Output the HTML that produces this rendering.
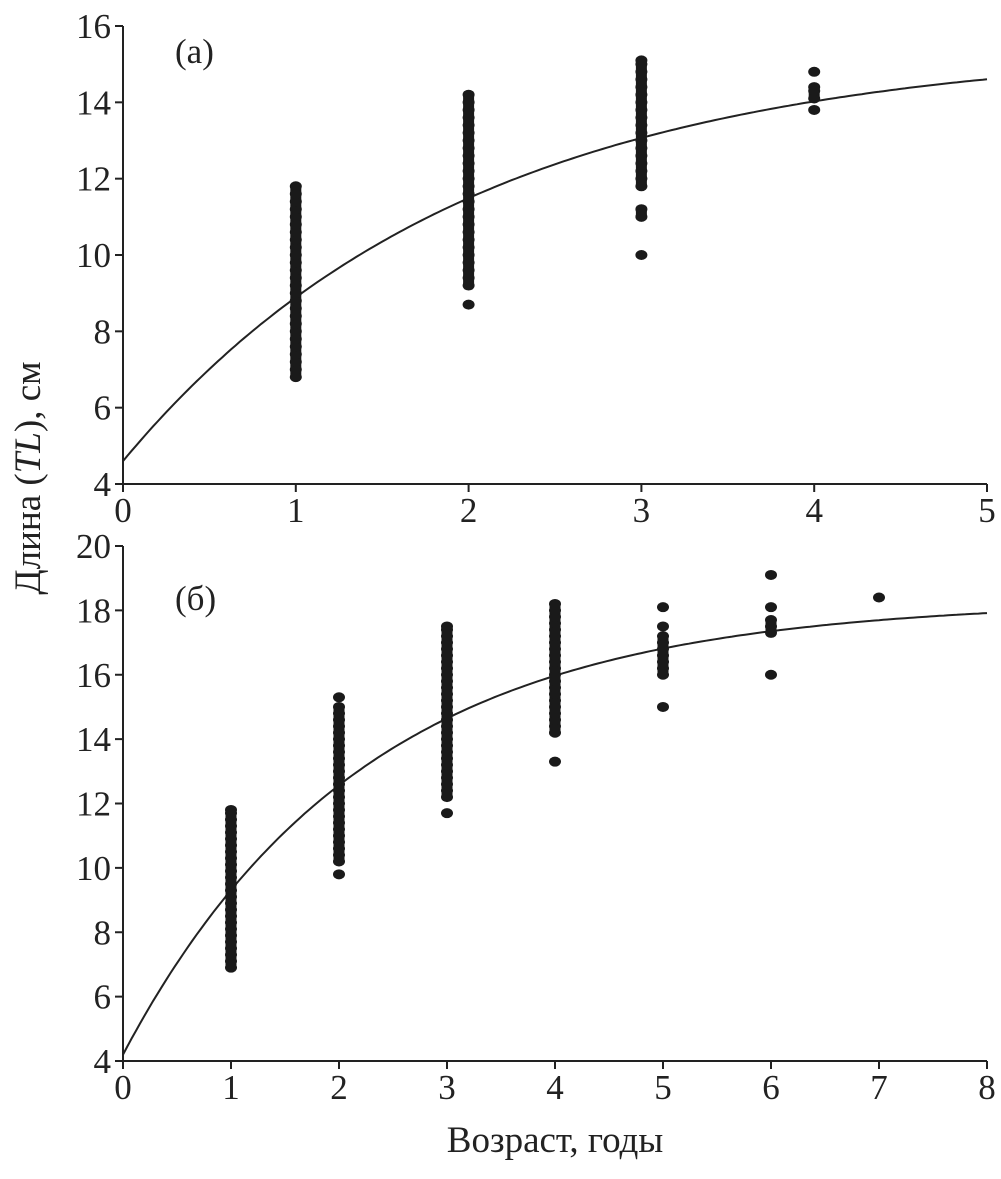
<!DOCTYPE html>
<html><head><meta charset="utf-8"><style>
body{margin:0;background:#fff}
svg text{font-family:"Liberation Serif",serif;fill:#222}
</style></head><body>
<svg id="c" width="1001" height="1174" viewBox="0 0 1001 1174"></svg>
<script>
// Panel (a)
const topXTicks=[0,1,2,3,4,5];
const topYTicks=[4,6,8,10,12,14,16];
const topCurveParams=[15.5,0.5,4.6]; // Linf, k, L0
const topAges=[1,2,3,4];
const topLengths=[
[6.8,7.0,7.2,7.4,7.6,7.8,8.0,8.2,8.4,8.6,8.8,9.0,9.2,9.4,9.6,9.8,10.0,10.2,10.4,10.6,10.8,11.0,11.2,11.4,11.6,11.8],
[8.7,9.2,9.4,9.6,9.8,10.0,10.2,10.4,10.6,10.8,11.0,11.2,11.4,11.6,11.8,12.0,12.2,12.4,12.6,12.8,13.0,13.2,13.4,13.6,13.8,14.0,14.2],
[10.0,11.0,11.2,11.8,12.0,12.2,12.4,12.6,12.8,13.0,13.2,13.4,13.6,13.8,14.0,14.2,14.4,14.6,14.8,15.0,15.1],
[13.8,14.1,14.3,14.4,14.8]];
// Panel (б)
const botXTicks=[0,1,2,3,4,5,6,7,8];
const botYTicks=[4,6,8,10,12,14,16,18,20];
const botCurveParams=[18.3,0.45,4.2];
const botAges=[1,2,3,4,5,6,7];
const botLengths=[
[6.9,7.1,7.3,7.5,7.7,7.9,8.1,8.3,8.5,8.7,8.9,9.1,9.3,9.5,9.7,9.9,10.1,10.3,10.5,10.7,10.9,11.1,11.3,11.5,11.7,11.8],
[9.8,10.2,10.4,10.6,10.8,11.0,11.2,11.4,11.6,11.8,12.0,12.2,12.4,12.6,12.8,13.0,13.2,13.4,13.6,13.8,14.0,14.2,14.4,14.6,14.8,15.0,15.3],
[11.7,12.2,12.4,12.6,12.8,13.0,13.2,13.4,13.6,13.8,14.0,14.2,14.4,14.6,14.8,15.0,15.2,15.4,15.6,15.8,16.0,16.2,16.4,16.6,16.8,17.0,17.2,17.4,17.5],
[13.3,14.2,14.4,14.6,14.8,15.0,15.2,15.4,15.6,15.8,16.0,16.2,16.4,16.6,16.8,17.0,17.2,17.4,17.6,17.8,18.0,18.2],
[15.0,16.0,16.2,16.4,16.6,16.8,17.0,17.2,17.5,18.1],
[16.0,17.3,17.5,17.7,18.1,19.1],
[18.4]];

const NS="http://www.w3.org/2000/svg";
const svg=document.getElementById('c');
function mk(tag,attrs,parent){const e=document.createElementNS(NS,tag);for(const k in attrs)e.setAttribute(k,attrs[k]);(parent||svg).appendChild(e);return e;}

function panel(o){
  const g=mk('g',{});
  
  
  const sx=v=>o.x0+(v-o.xmin)/(o.xmax-o.xmin)*(o.x1-o.x0);
  const sy=v=>o.y0-(v-o.ymin)/(o.ymax-o.ymin)*(o.y0-o.y1);
  const ax=mk('path',{d:`M${o.x0},${o.y1}V${o.y0}H${o.x1}`,stroke:'#222','stroke-width':2,fill:'none'},g);
  
  
  o.yt.forEach(v=>{
    mk('line',{x1:o.x0-8,x2:o.x0,y1:sy(v),y2:sy(v),stroke:'#222','stroke-width':2},g);
    const t=mk('text',{x:o.x0-12,y:sy(v)+12,'text-anchor':'end','font-size':35},g);
    t.textContent=v;
    
    
  });
  o.xt.forEach(v=>{
    mk('line',{x1:sx(v),x2:sx(v),y1:o.y0,y2:o.y0+8,stroke:'#222','stroke-width':2},g);
    const t=mk('text',{x:sx(v),y:o.y0+38,'text-anchor':'middle','font-size':35},g);
    t.textContent=v;
    
    
  });
  const [Li,k,L0]=o.cp;
  let d='';
  for(let i=0;i<=200;i++){const a=o.xmin+(o.xmax-o.xmin)*i/200;const L=Li-(Li-L0)*Math.exp(-k*a);d+=(i?'L':'M')+sx(a).toFixed(1)+','+sy(L).toFixed(1);}
  const cv=mk('path',{d,stroke:'#222','stroke-width':2,fill:'none'},g);
  
  
  o.ages.forEach((a,i)=>{
    const ls=o.lens[i];
    for(let j=1;j<ls.length;j++){
      if(ls[j]-ls[j-1]<=0.25){
        const r=mk('rect',{x:sx(a)-5.5,y:sy(ls[j]),width:11,height:sy(ls[j-1])-sy(ls[j]),fill:'#1a1a1a'},g);
        
        
      }
    }
    ls.forEach(L=>{
      const c=mk('ellipse',{cx:sx(a),cy:sy(L),rx:6,ry:5,fill:'#1a1a1a'},g);
      
      
    });
  });
  const lb=mk('text',{x:o.lx,y:o.ly,'font-size':35},g);
  lb.textContent=o.label;
  
  
}
panel({name:'panel-a',x0:123,x1:987,y0:484,y1:26,xmin:0,xmax:5,ymin:4,ymax:16,xt:topXTicks,yt:topYTicks,cp:topCurveParams,ages:topAges,lens:topLengths,label:'(а)',lx:175,ly:63});
panel({name:'panel-b',x0:123,x1:987,y0:1061,y1:546,xmin:0,xmax:8,ymin:4,ymax:20,xt:botXTicks,yt:botYTicks,cp:botCurveParams,ages:botAges,lens:botLengths,label:'(б)',lx:175,ly:610});

const yl=mk('text',{x:0,y:0,'font-size':37,'text-anchor':'middle',transform:'translate(40,478) rotate(-90)'});
yl.innerHTML='Длина (<tspan font-style="italic">TL</tspan>), см';


const xl=mk('text',{x:555,y:1152,'font-size':37,'text-anchor':'middle'});
xl.textContent='Возраст, годы';


</script>
</body></html>
